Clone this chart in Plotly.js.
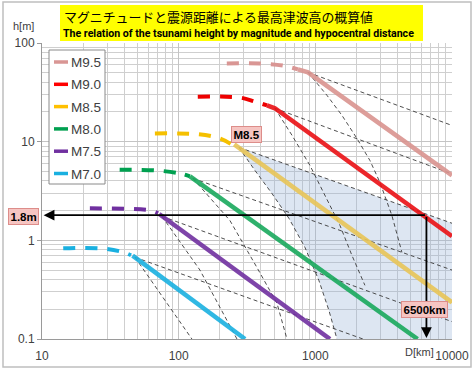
<!DOCTYPE html>
<html>
<head>
<meta charset="utf-8">
<script src="https://cdn.plot.ly/plotly-3.0.1.min.js"></script>
<style>
  html, body { margin: 0; padding: 0; background: #fff; }
  #chart { width: 474px; height: 372px; }
</style>
</head>
<body>
<div id="chart"></div>
<script>
// ---------------- DATA ----------------
const magnitudes = ['M9.5', 'M9.0', 'M8.5', 'M8.0', 'M7.5', 'M7.0'];

// near-field (dashed thick) segments: distance D [km], height h [m]
const nearD_95 = [225, 390, 580, 746];   const nearH_95 = [62, 62, 59, 54];
const nearD_90 = [138, 280, 360, 443];   const nearH_90 = [28.5, 28, 25.5, 23.3];
const nearD_85 = [67, 138, 200, 240];    const nearH_85 = [12.1, 11.9, 10.8, 9.5];
const nearD_80 = [37, 69, 102, 121];     const nearH_80 = [5.2, 5.1, 4.77, 4.45];
const nearD_75 = [22.4, 61.7, 70.6];     const nearH_75 = [2.11, 2.01, 1.88];
const nearD_70 = [14.3, 26.6, 39.2, 44.8]; const nearH_70 = [0.83, 0.83, 0.76, 0.705];

// far-field (solid thick) lines
const farD_95 = [746, 883, 10000];  const farH_95 = [54, 50.4, 4.56];
const farD_90 = [443, 506, 10000];  const farH_90 = [23.3, 21.8, 1.1];
const farD_85 = [255, 10000];       const farH_85 = [9.4, 0.235];
const farD_80 = [121, 5600];        const farH_80 = [4.45, 0.1];
const farD_75 = [72, 1280];         const farH_75 = [1.85, 0.1];
const farD_70 = [46, 306];          const farH_70 = [0.70, 0.1];

// thin dashed: shallow bound from each junction
const shallowD_95 = [883, 10000];  const shallowH_95 = [50.4, 14.6];
const shallowD_90 = [506, 10000];  const shallowH_90 = [21.8, 4.7];
const shallowD_85 = [276, 10000];  const shallowH_85 = [8.75, 1.49];
const shallowD_80 = [127, 10000];  const shallowH_80 = [4.25, 0.5];
const shallowD_75 = [75.5, 10000]; const shallowH_75 = [1.75, 0.15];
const shallowD_70 = [47.9, 2230];  const shallowH_70 = [0.673, 0.1];

// thin dashed: steep bound from each junction
const steepD_95 = [883, 1216, 1565, 2014, 2507, 2969, 3631, 4301];
const steepH_95 = [50.4, 29.5, 18.5, 10.8, 6.46, 3.87, 1.79, 0.756];
const steepD_90 = [506, 675, 913, 1175, 1513, 1852, 2306];
const steepH_90 = [21.8, 11.6, 5.75, 2.86, 1.42, 0.705, 0.35];
const steepD_85 = [276, 361, 481, 641, 839, 1063, 1257, 1439];
const steepH_85 = [8.75, 5.12, 2.99, 1.67, 0.85, 0.39, 0.195, 0.1];
const steepD_80 = [127, 237, 374, 524, 620];
const steepH_80 = [4.25, 1.59, 0.53, 0.23, 0.1];
const steepD_75 = [75.5, 143, 267];
const steepH_75 = [1.75, 0.5, 0.1];
const steepD_70 = [47.9, 125];
const steepH_70 = [0.673, 0.1];

// example reading
const exampleD = 6500;   // km
const exampleH = 1.8;    // m
const exampleMag = 'M8.5';

// axes
const xTickVals = [10, 100, 1000, 10000];
const xTickText = ['10', '100', '1000', '10000'];
const yTickVals = [0.1, 1, 10, 100];
const yTickText = ['0.1', '1', '10', '100'];
const xRangeVals = [10, 10000];
const yRangeVals = [0.1, 100];

const titleJa = 'マグニチュードと震源距離による最高津波高の概算値';
const titleEn = 'The relation of the tsunami height by magnitude and hypocentral distance';
const yLabel = 'h[m]';
const xLabel = 'D[km]';

// ---------------- STYLE ----------------
const legendColors = ['#d99694', '#ff0000', '#ffc000', '#00a050', '#7030a0', '#1ab0e0'];
const solidColors  = ['#d9938f', '#ea0f14', '#e8c456', '#18a85c', '#7030a0', '#1ab0e0'];
const nearDashColors = ['#d99694', '#ee0000', '#f5c000', '#00a050', '#7030a0', '#1ab0e0'];

const nearSets = [[nearD_95, nearH_95], [nearD_90, nearH_90], [nearD_85, nearH_85],
                  [nearD_80, nearH_80], [nearD_75, nearH_75], [nearD_70, nearH_70]];
const farSets = [[farD_95, farH_95], [farD_90, farH_90], [farD_85, farH_85],
                 [farD_80, farH_80], [farD_75, farH_75], [farD_70, farH_70]];
const shallowSets = [[shallowD_95, shallowH_95], [shallowD_90, shallowH_90], [shallowD_85, shallowH_85],
                     [shallowD_80, shallowH_80], [shallowD_75, shallowH_75], [shallowD_70, shallowH_70]];
const steepSets = [[steepD_95, steepH_95], [steepD_90, steepH_90], [steepD_85, steepH_85],
                   [steepD_80, steepH_80], [steepD_75, steepH_75], [steepD_70, steepH_70]];

// plot area geometry in pixels (for placing decorations outside the data)
const L = 42, R = 452, T = 43, B = 339;
const px = p => (p - L) / (R - L);
const py = p => (B - p) / (B - T);

const traces = [];

// shaded range for M8.5
const shadeX = [...shallowD_85, shallowD_85[shallowD_85.length - 1], ...steepD_85.slice().reverse()];
const shadeY = [...shallowH_85, yRangeVals[0], ...steepH_85.slice().reverse()];
traces.push({
  x: shadeX, y: shadeY, mode: 'lines', fill: 'toself',
  fillcolor: 'rgba(150,178,215,0.32)', line: {width: 0}, hoverinfo: 'skip'
});

// thin dashed bound lines
[...shallowSets, ...steepSets].forEach(s => {
  traces.push({
    x: s[0], y: s[1], mode: 'lines',
    line: {color: '#3a3a3a', width: 0.9, dash: '4px,3px'}, hoverinfo: 'skip'
  });
});

// thick lines
magnitudes.forEach((m, i) => {
  traces.push({
    x: farSets[i][0], y: farSets[i][1], mode: 'lines', name: m,
    line: {color: solidColors[i], width: 4.5}, opacity: 0.9
  });
  traces.push({
    x: nearSets[i][0], y: nearSets[i][1], mode: 'lines', name: m + ' near',
    line: {color: nearDashColors[i], width: 4, dash: '12px,10px', shape: 'spline'}
  });
});

const shapes = [];
const annotations = [];

// outer frame
shapes.push({type: 'rect', xref: 'paper', yref: 'paper',
  x0: px(3), x1: px(471), y0: py(367), y1: py(2),
  line: {color: '#bfbfbf', width: 1.5}, fillcolor: 'rgba(0,0,0,0)', layer: 'below'});

// title box
shapes.push({type: 'rect', xref: 'paper', yref: 'paper',
  x0: px(60), x1: px(423), y0: py(41), y1: py(5),
  line: {width: 0}, fillcolor: '#ffff00', layer: 'above'});
annotations.push({xref: 'paper', yref: 'paper', x: px(62), y: py(16.5), xanchor: 'left', yanchor: 'middle',
  text: titleJa, showarrow: false,
  font: {family: 'Noto Sans CJK JP', size: 12.9, color: '#000'}});
annotations.push({xref: 'paper', yref: 'paper', x: px(61), y: py(33), xanchor: 'left', yanchor: 'middle',
  text: '<b>' + titleEn + '</b>', showarrow: false,
  font: {family: 'Liberation Sans Narrow, Roboto, sans-serif', size: 10.6, color: '#000'}});

// axis labels
annotations.push({xref: 'paper', yref: 'paper', x: px(23), y: py(26), xanchor: 'center', yanchor: 'middle',
  text: yLabel, showarrow: false, font: {family: 'Liberation Sans', size: 11, color: '#404040'}});
annotations.push({xref: 'paper', yref: 'paper', x: px(419), y: py(352), xanchor: 'center', yanchor: 'middle',
  text: xLabel, showarrow: false, font: {family: 'Liberation Sans', size: 11, color: '#404040'}});

// legend (manual)
shapes.push({type: 'rect', xref: 'paper', yref: 'paper',
  x0: px(49), x1: px(105), y0: py(184), y1: py(50),
  line: {color: '#8a8a8a', width: 1}, fillcolor: '#ffffff', layer: 'above'});
magnitudes.forEach((m, i) => {
  const yc = 62 + i * 22.3;
  shapes.push({type: 'line', xref: 'paper', yref: 'paper',
    x0: px(54), x1: px(68), y0: py(yc), y1: py(yc),
    line: {color: legendColors[i], width: 3.5}, layer: 'above'});
  annotations.push({xref: 'paper', yref: 'paper', x: px(68.5), y: py(yc + 0.5), xanchor: 'left', yanchor: 'middle',
    text: m, showarrow: false, font: {family: 'Liberation Sans', size: 13.5, color: '#404040'}});
});

// arrows for the worked example
annotations.push({x: Math.log10(xRangeVals[0]) + 0.012, y: Math.log10(exampleH),
  ax: Math.log10(exampleD), ay: Math.log10(exampleH), axref: 'x', ayref: 'y', xref: 'x', yref: 'y',
  text: '', showarrow: true, arrowhead: 2, arrowsize: 1.2, arrowwidth: 1.8, arrowcolor: '#000', standoff: 0, startstandoff: 0});
annotations.push({x: Math.log10(exampleD), y: Math.log10(yRangeVals[0]) + 0.01,
  ax: Math.log10(exampleD), ay: Math.log10(exampleH), axref: 'x', ayref: 'y', xref: 'x', yref: 'y',
  text: '', showarrow: true, arrowhead: 2, arrowsize: 1.2, arrowwidth: 1.8, arrowcolor: '#000', standoff: 0, startstandoff: 0});

const boxStyle = {showarrow: false, bgcolor: '#f6c5c2', bordercolor: '#dd8d8a', borderwidth: 1, borderpad: 1.5,
  font: {family: 'Liberation Sans', size: 11.5, color: '#000'}};
annotations.push(Object.assign({xref: 'paper', yref: 'paper', x: px(23), y: py(216),
  xanchor: 'center', yanchor: 'middle', text: '<b>' + exampleH + 'm</b>'}, boxStyle));
annotations.push(Object.assign({xref: 'paper', yref: 'paper', x: px(424.5), y: py(309.5),
  xanchor: 'center', yanchor: 'middle', text: '<b>' + exampleD + 'km</b>'}, boxStyle));
annotations.push(Object.assign({xref: 'paper', yref: 'paper', x: px(246), y: py(134.5),
  xanchor: 'center', yanchor: 'middle', text: '<b>' + exampleMag + '</b>'}, boxStyle));

// minor grid positions (2..9 within each decade)
function minorVals(lo, hi) {
  const out = [];
  for (let e = Math.floor(Math.log10(lo)); e < Math.log10(hi); e++) {
    for (let k = 2; k <= 9; k++) out.push(k * Math.pow(10, e));
  }
  return out;
}

const layout = {
  width: 474, height: 372,
  margin: {l: L, r: 474 - R, t: T, b: 372 - B, pad: 0},
  paper_bgcolor: '#ffffff', plot_bgcolor: '#ffffff',
  showlegend: false,
  xaxis: {
    type: 'log', range: [Math.log10(xRangeVals[0]), Math.log10(xRangeVals[1])],
    tickmode: 'array', tickvals: xTickVals, ticktext: xTickText,
    showgrid: true, gridcolor: '#c4c4c4', gridwidth: 1,
    minor: {tickmode: 'array', tickvals: minorVals(xRangeVals[0], xRangeVals[1]), showgrid: true, gridcolor: '#cfcfcf', gridwidth: 1, ticks: ''},
    showline: true, linecolor: '#9a9a9a', linewidth: 1, zeroline: false,
    ticks: '', ticklabelstandoff: 6,
    tickfont: {family: 'Liberation Sans', size: 12, color: '#404040'}
  },
  yaxis: {
    type: 'log', range: [Math.log10(yRangeVals[0]), Math.log10(yRangeVals[1])],
    tickmode: 'array', tickvals: yTickVals, ticktext: yTickText,
    showgrid: true, gridcolor: '#c4c4c4', gridwidth: 1,
    minor: {tickmode: 'array', tickvals: minorVals(yRangeVals[0], yRangeVals[1]), showgrid: true, gridcolor: '#cfcfcf', gridwidth: 1, ticks: ''},
    showline: true, linecolor: '#9a9a9a', linewidth: 1, zeroline: false,
    ticks: 'outside', ticklen: 4, tickcolor: '#9a9a9a',
    tickfont: {family: 'Liberation Sans', size: 12, color: '#404040'}
  },
  shapes: shapes,
  annotations: annotations
};

Plotly.newPlot('chart', traces, layout, {staticPlot: true, displayModeBar: false});
</script>
</body>
</html>
